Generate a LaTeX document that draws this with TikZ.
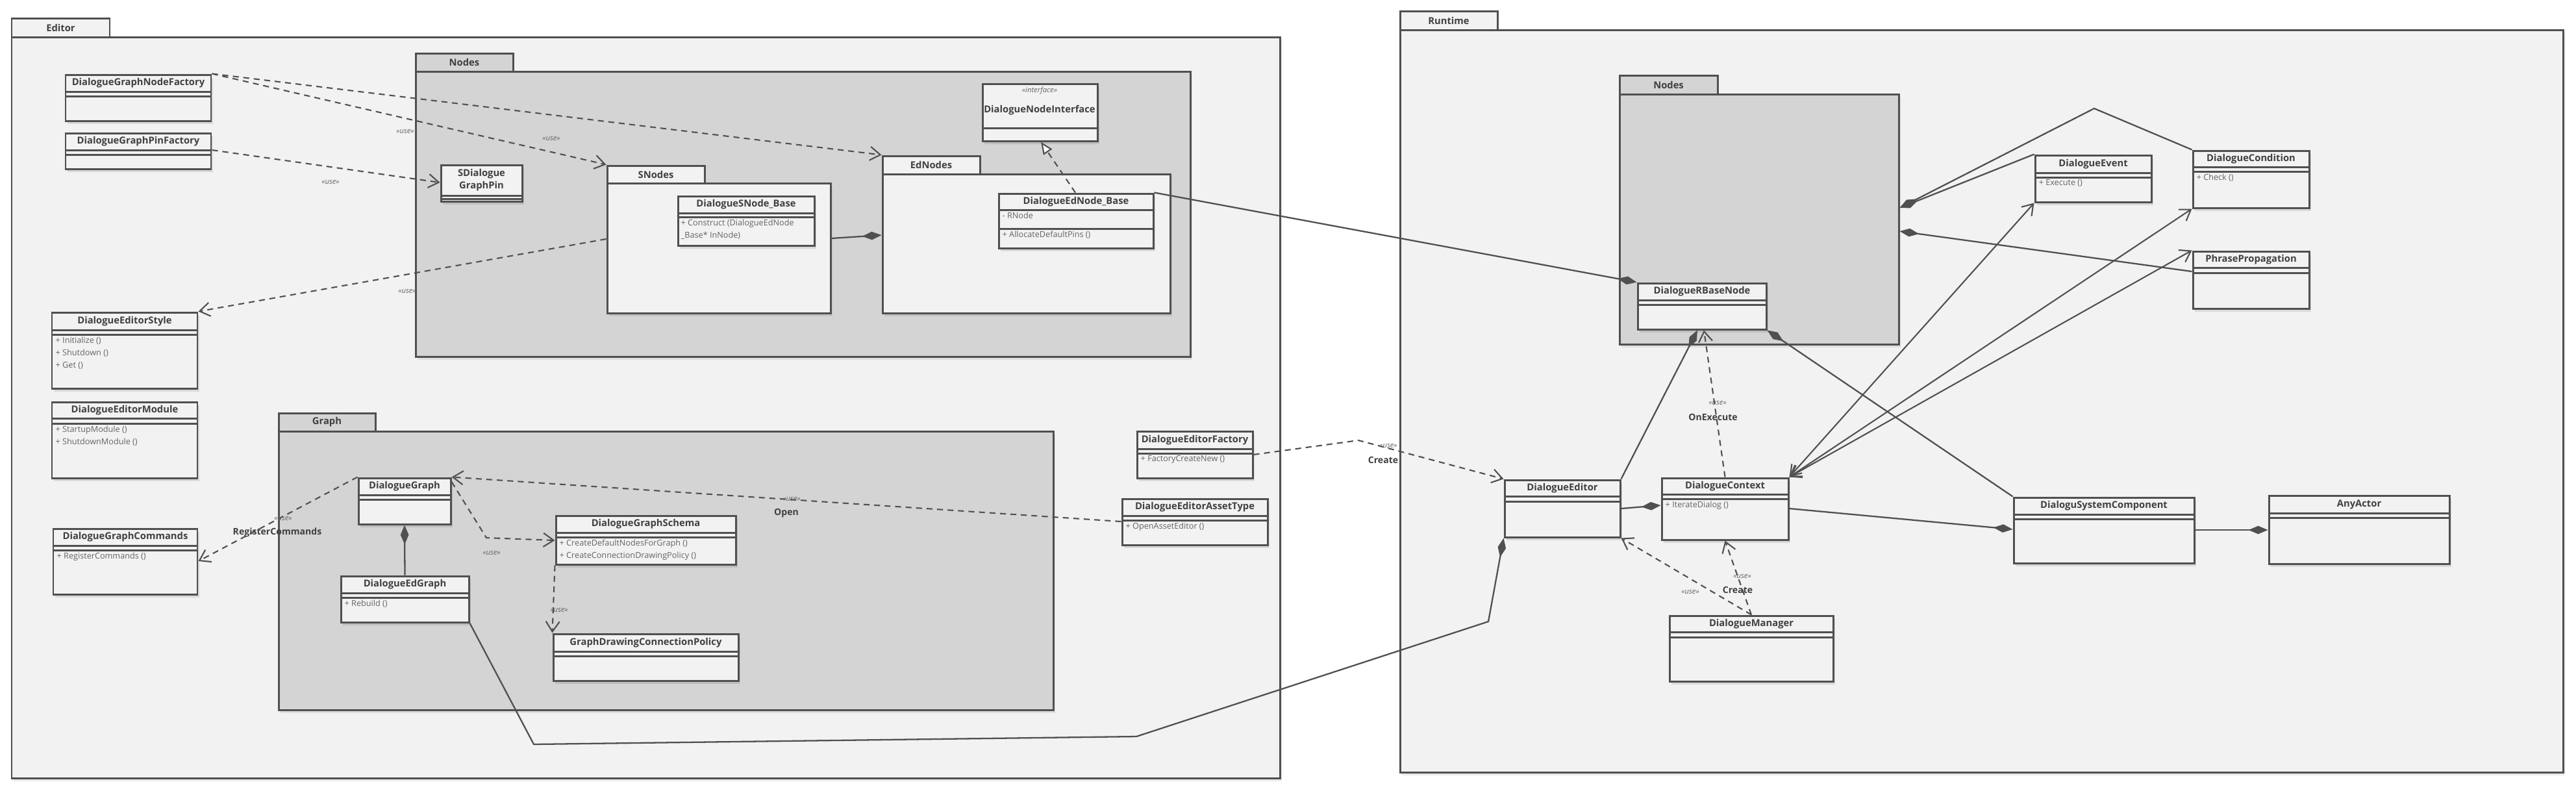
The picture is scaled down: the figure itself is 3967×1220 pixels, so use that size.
\documentclass[tikz,border=0pt]{standalone}
\usepackage{fontspec}
\setmainfont{Open Sans}
\usetikzlibrary{arrows.meta,fit,shadows}

\definecolor{linecol}{HTML}{505050}
\definecolor{pkgfill}{HTML}{F2F2F2}
\definecolor{subfill}{HTML}{D4D4D4}
\definecolor{titlecol}{HTML}{404040}
\definecolor{memcol}{HTML}{646464}

% class box: name, x1, y1, x2, y2, first rule, second rule, title
\newcommand{\umlclass}[8]{%
  \node[classbox, fit={(#2,#3) (#4,#5)}] (#1) {};
  \draw[boxline] (#2,#6) -- (#4,#6) (#2,#7) -- (#4,#7);
  \node[ctitle] (#1-title) at ({(#2+#4)/2},{(#3+#6)/2}) {#8};
}
% package: name, fill, x1, tab top, tab right, body top, body right, body bottom, label
\newcommand{\umlpackage}[9]{%
  \node[pkgbody, fill=#2, fit={(#3,#6) (#7,#8)}] (#1) {};
  \node[pkgtab, fill=#2, fit={(#3,#4) (#5,#6)}] (#1tab) {};
  \node[pkgtitle] (#1-label) at (#1tab.center) {#9};
}

\begin{document}
\begin{tikzpicture}[x=0.01cm,y=-0.01cm,
  classbox/.style={draw=linecol, line width=0.85pt, fill=pkgfill, inner sep=0pt,
    drop shadow={shadow xshift=0.9pt, shadow yshift=-1.3pt, fill=black, opacity=0.10}},
  pkgbody/.style={draw=linecol, line width=0.85pt, inner sep=0pt,
    drop shadow={shadow xshift=0.9pt, shadow yshift=-1.3pt, fill=black, opacity=0.08}},
  pkgtab/.style={draw=linecol, line width=0.85pt, inner sep=0pt},
  boxline/.style={draw=linecol, line width=0.85pt},
  ctitle/.style={font=\fontsize{4.2}{5.4}\selectfont\bfseries, text=titlecol, inner sep=0pt, align=center},
  pkgtitle/.style={font=\fontsize{4.2}{5.4}\selectfont\bfseries, text=titlecol, inner sep=0pt},
  cmember/.style={anchor=north west, inner sep=0pt, align=left,
    font=\fontsize{3.6}{5.4}\selectfont, text=memcol},
  uselabel/.style={font=\fontsize{3.2}{4}\selectfont\itshape, text=memcol, inner sep=0pt},
  linklabel/.style={font=\fontsize{4}{5}\selectfont\bfseries, text=titlecol, inner sep=0pt},
  dep/.style={draw=linecol, line width=0.6pt, dash pattern=on 2.6pt off 2pt,
    -{Straight Barb[length=4.5pt,width=6pt]}},
  real/.style={draw=linecol, line width=0.6pt, dash pattern=on 2.6pt off 2pt,
    -{Triangle[length=5.4pt,width=4.5pt,fill=white]}},
  comp/.style={draw=linecol, line width=0.65pt, -{Diamond[length=8.5pt,width=3.6pt]}},
  nav/.style={draw=linecol, line width=0.6pt,
    {Straight Barb[length=4.5pt,width=6pt]}-{Straight Barb[length=4.5pt,width=6pt]}}]

\useasboundingbox (0,0) rectangle (3967,1220);
\fill[white] (0,0) rectangle (3967,1220);

% packages
\umlpackage{editor}{pkgfill}{18}{28}{169}{57}{1971}{1198}{Editor}
\umlpackage{ednodespkg}{subfill}{640}{82}{790}{110}{1833}{549}{Nodes}
\umlpackage{snodes}{pkgfill}{935}{255}{1085}{282}{1279}{482}{SNodes}
\umlpackage{ednodes}{pkgfill}{1359}{240}{1509}{268}{1802}{482}{EdNodes}
\umlpackage{graph}{subfill}{429}{636}{578}{664}{1622}{1093}{Graph}
\umlpackage{runtime}{pkgfill}{2156}{17}{2306}{46}{3947}{1189}{Runtime}
\umlpackage{rnodes}{subfill}{2494}{116}{2645}{145}{2924}{530}{Nodes}

% editor classes
\umlclass{nodefactory}{101}{115}{325}{186}{141}{148}{DialogueGraphNodeFactory}
\umlclass{pinfactory}{101}{205}{325}{260}{231}{238}{DialogueGraphPinFactory}
\umlclass{editorstyle}{80}{481}{304}{598}{508}{515}{DialogueEditorStyle}
\node[cmember] (editorstyle-ops) at (85,518) {+ Initialize ()\\+ Shutdown ()\\+ Get ()};
\umlclass{editormodule}{80}{619}{304}{736}{644}{652}{DialogueEditorModule}
\node[cmember] (editormodule-ops) at (85,655) {+ StartupModule ()\\+ ShutdownModule ()};
\umlclass{graphcommands}{82}{814}{304}{915}{840}{847}{DialogueGraphCommands}
\node[cmember] (graphcommands-ops) at (87,850) {+ RegisterCommands ()};
\umlclass{graphpin}{679}{254}{804}{310}{301}{306}{SDialogue\\GraphPin}
\umlclass{nodeinterface}{1513}{129}{1690}{217}{197}{197}{}
\node[uselabel] (nodeinterface-st) at (1601,140) {«interface»};
\node[ctitle] (nodeinterface-name) at (1601,170) {DialogueNodeInterface};
\umlclass{snodebase}{1044}{302}{1254}{378}{328}{334}{DialogueSNode\_Base}
\node[cmember] (snodebase-ops) at (1048,337) {+ Construct (DialogueEdNode\\\_Base* InNode)};
\umlclass{ednodebase}{1538}{298}{1776}{382}{323}{352}{DialogueEdNode\_Base}
\node[cmember] (ednodebase-attr) at (1543,326) {- RNode};
\node[cmember] (ednodebase-ops) at (1543,355) {+ AllocateDefaultPins ()};
\umlclass{dgraph}{552}{736}{694}{807}{762}{769}{DialogueGraph}
\umlclass{edgraph}{525}{887}{722}{958}{913}{920}{DialogueEdGraph}
\node[cmember] (edgraph-ops) at (530,923) {+ Rebuild ()};
\umlclass{schema}{856}{794}{1133}{869}{820}{827}{DialogueGraphSchema}
\node[cmember] (schema-ops) at (861,830) {+ CreateDefaultNodesForGraph ()\\+ CreateConnectionDrawingPolicy ()};
\umlclass{policy}{852}{976}{1137}{1048}{1003}{1010}{GraphDrawingConnectionPolicy}
\umlclass{editorfactory}{1751}{664}{1929}{736}{691}{698}{DialogueEditorFactory}
\node[cmember] (editorfactory-ops) at (1756,701) {+ FactoryCreateNew ()};
\umlclass{assettype}{1728}{768}{1952}{839}{794}{801}{DialogueEditorAssetType}
\node[cmember] (assettype-ops) at (1733,804) {+ OpenAssetEditor ()};

% runtime classes
\umlclass{rbasenode}{2522}{436}{2720}{507}{462}{469}{DialogueRBaseNode}
\umlclass{devent}{3134}{239}{3313}{311}{266}{273}{DialogueEvent}
\node[cmember] (devent-ops) at (3139,276) {+ Execute ()};
\umlclass{dcondition}{3377}{232}{3556}{320}{257}{264}{DialogueCondition}
\node[cmember] (dcondition-ops) at (3382,267) {+ Check ()};
\umlclass{phrase}{3377}{387}{3556}{475}{412}{420}{PhrasePropagation}
\umlclass{deditor}{2317}{739}{2495}{827}{764}{772}{DialogueEditor}
\umlclass{dcontext}{2559}{736}{2754}{831}{761}{768}{DialogueContext}
\node[cmember] (dcontext-ops) at (2564,771) {+ IterateDialog ()};
\umlclass{dmanager}{2571}{948}{2823}{1049}{973}{981}{DialogueManager}
\umlclass{syscomp}{3101}{766}{3379}{867}{792}{799}{DialoguSystemComponent}
\umlclass{anyactor}{3494}{763}{3772}{868}{790}{797}{AnyActor}

% bends
\coordinate (schemabend) at (749,828);
\coordinate (edgraphA) at (822,1146);
\coordinate (edgraphB) at (1750,1134);
\coordinate (edgraphC) at (2292,957);
\coordinate (createbend) at (2092,678);
\coordinate (condpeak) at (3225,167);

% editor connectors
\draw[dep] (nodefactory.north east) -- (snodestab.north west);
\draw[dep] (nodefactory.north east) -- (ednodestab.north west);
\node[uselabel] (use1) at (849,213) {«use»};
\node[uselabel] (use2) at (624,202) {«use»};
\draw[dep] (pinfactory.east |- 0,231) -- (graphpin.west |- 0,281);
\node[uselabel] (use3) at (509,280) {«use»};
\draw[dep] (snodes.west |- 0,368) -- (editorstyle.north east);
\node[uselabel] (use4) at (627,448) {«use»};
\draw[comp] (snodes.east |- 0,367) -- (ednodes.west |- 0,362);
\draw[real] (ednodebase.north -| 1656,0) -- (nodeinterface.south -| 1603,0);
\draw[comp] (ednodebase.north east) -- (rbasenode.north west);

\draw[dep] (dgraph.north west) -- (graphcommands.east |- 0,864);
\node[uselabel] (use5) at (436,798) {«use»};
\node[linklabel] (regcmd) at (427,820) {RegisterCommands};
\draw[comp] (edgraph.north) -- (dgraph.south);
\draw[dep] (dgraph.east |- 0,742) -- (schemabend) -- (schema.west |- 0,832);
\node[uselabel] (use6) at (757,851) {«use»};
\draw[dep] (schema.south west) -- (policy.north west);
\node[uselabel] (use7) at (861,939) {«use»};
\draw[dep] (assettype.west |- 0,803) -- (dgraph.north east);
\node[uselabel] (use8) at (1219,768) {«use»};
\node[linklabel] (openlbl) at (1211,790) {Open};
\draw[comp] (edgraph.south east) -- (edgraphA) -- (edgraphB) -- (edgraphC) -- (deditor.south west);
\draw[dep] (editorfactory.east |- 0,700) -- (createbend) -- (deditor.north west);
\node[uselabel] (use9) at (2138,686) {«use»};
\node[linklabel] (createlbl) at (2130,708) {Create};

% runtime connectors
\draw[comp] (devent.north west) -- (rnodes.east |- 0,320);
\draw[comp] (dcondition.north west) -- (condpeak) -- (rnodes.east |- 0,320);
\draw[comp] (phrase.west |- 0,418) -- (rnodes.east |- 0,356);
\draw[nav] (dcontext.north east) -- (devent.south west);
\draw[nav] (dcontext.north east) -- (dcondition.south west);
\draw[nav] (dcontext.north east) -- (phrase.north west);
\draw[comp] (deditor.north east) -- (rbasenode.south -| 2614,0);
\draw[dep] (dcontext.north) -- (rbasenode.south -| 2624,0);
\node[uselabel] (use10) at (2645,620) {«use»};
\node[linklabel] (onexec) at (2638,642) {OnExecute};
\draw[comp] (syscomp.north west) -- (rbasenode.south east);
\draw[comp] (deditor.east |- 0,783) -- (dcontext.west |- 0,778);
\draw[comp] (dcontext.east |- 0,783) -- (syscomp.west |- 0,815);
\draw[comp] (syscomp.east |- 0,816) -- (anyactor.west |- 0,816);
\draw[dep] (dmanager.north) -- (dcontext.south);
\node[uselabel] (use11) at (2683,887) {«use»};
\node[linklabel] (createlbl2) at (2676,908) {Create};
\draw[dep] (dmanager.north) -- (deditor.south east);
\node[uselabel] (use12) at (2603,911) {«use»};
\end{tikzpicture}
\end{document}
